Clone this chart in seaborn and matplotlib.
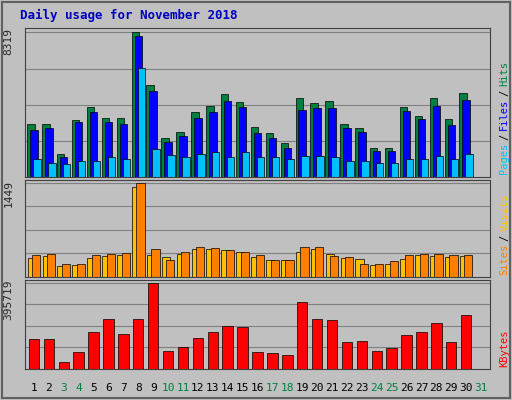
import numpy as np
import matplotlib
matplotlib.use("Agg")
import matplotlib.pyplot as plt
import seaborn as sns

days = list(range(1, 32))
hits_px = [122,122,152,118,104,116,116,28,82,136,130,110,103,91,99,125,131,141,95,100,98,122,126,146,146,104,114,95,117,90]
files_px = [128,126,156,120,109,120,122,32,88,140,134,116,110,98,104,131,136,146,107,105,105,126,130,149,149,108,117,103,123,97]
pages_px = [158,162,163,160,160,156,158,64,147,153,156,152,150,156,150,156,156,158,155,155,156,160,160,162,162,158,158,155,158,152]
hits = [round((176-t)/148*8319) for t in hits_px] + [0]
files = [round((176-t)/148*8319) for t in files_px] + [0]
pages = [round((176-t)/148*8319) for t in pages_px] + [0]
vis_px = [257,255,264,263,257,255,254,188,254,256,253,248,248,249,251,256,259,259,251,248,253,257,258,263,262,258,254,255,256,255]
sit_px = [254,253,262,262,254,253,252,184,248,259,251,246,247,249,251,254,259,259,246,246,255,256,262,262,260,254,253,253,254,254]
visits = [round((275-t)/91*1449) for t in vis_px] + [0]
sites = [round((275-t)/91*1449) for t in sit_px] + [0]
kb_px = [338,338,360,351,331,319,333,319,284,350,346,337,331,326,327,351,352,354,303,319,320,341,340,350,347,334,331,323,341,315]
kbytes = [round((367-t)/83*395719) for t in kb_px] + [0]
weekend = {3,4,10,11,17,18,24,25,31}

sns.set_style("white")
plt.rcParams['font.family'] = ['DejaVu Sans Mono', 'DejaVu Sans']
BG = '#C0C0C0'
fig = plt.figure(figsize=(5.12, 4.0), dpi=100, facecolor=BG)
L, R = 25/512, 490/512
ax1 = fig.add_axes([L, 1-177/400, R-L, 149/400])
ax2 = fig.add_axes([L, 1-277/400, R-L, 97/400])
ax3 = fig.add_axes([L, 1-369/400, R-L, 89/400])
x = np.array(days)
kw = dict(edgecolor='black', linewidth=0.5)
ax1.bar(x-0.2, hits, width=0.5, color='#008040', **kw)
ax1.bar(x, files, width=0.5, color='#0000FF', **kw)
ax1.bar(x+0.2, pages, width=0.5, color='#00C0FF', **kw)
ax2.bar(x-0.15, visits, width=0.55, color='#FFC000', **kw)
ax2.bar(x+0.15, sites, width=0.55, color='#FF8000', **kw)
ax3.bar(x, kbytes, width=0.7, color='#FF0000', **kw)
for ax, mx, lab in [(ax1, 8319, [('Pages','#00C0FF'),('Files','#0000FF'),('Hits','#008040')]),
                    (ax2, 1449, [('Sites','#FF8000'),('Visits','#FFC000')]),
                    (ax3, 395719, [('KBytes','#FF0000')])]:
    ax.set_facecolor(BG)
    ax.set_xlim(0.4, 31.6)
    ax.set_ylim(0, mx*1.03)
    ax.set_yticks([mx/4, mx/2, 3*mx/4, mx])
    ax.set_yticklabels([])
    ax.tick_params(length=0)
    ax.grid(axis='y', color='#808080', linewidth=0.8)
    ax.set_axisbelow(True)
    ax.set_xticks([])
    for s in ax.spines.values():
        s.set_color('#404040')
    ax.text(-0.025, 1.0, str(mx), transform=ax.transAxes, rotation=90, ha='right', va='top', fontsize=8)
    bb = ax.get_position()
    parts = []
    for i, (t, c) in enumerate(lab):
        parts.append((t, c))
        if i < len(lab)-1:
            parts.append(('/', 'black'))
    ypix = 0
    for t, c in parts:
        ax.text(1.02, 0.02 + ypix, t, transform=ax.transAxes, rotation=90, ha='left', va='bottom', color=c, fontsize=7.5)
        ypix += (len(t) * 6.0 + 4) / (bb.height*400)
for d in days:
    fig.text((L + (d-0.4)/31.2*(R-L)), 1-388/400, str(d), ha='center', va='center', fontsize=8,
             color='#008040' if d in weekend else 'black')
fig.text(20/512, 1-15/400, 'Daily usage for November 2018', color='#0000C0', fontsize=9, fontweight='bold', va='center')
fig.patches.append(plt.Rectangle((0.004, 0.004), 0.992, 0.992, transform=fig.transFigure, fill=False, edgecolor='#606060', linewidth=1.5))
fig.savefig('out.png', dpi=100, facecolor=BG)
